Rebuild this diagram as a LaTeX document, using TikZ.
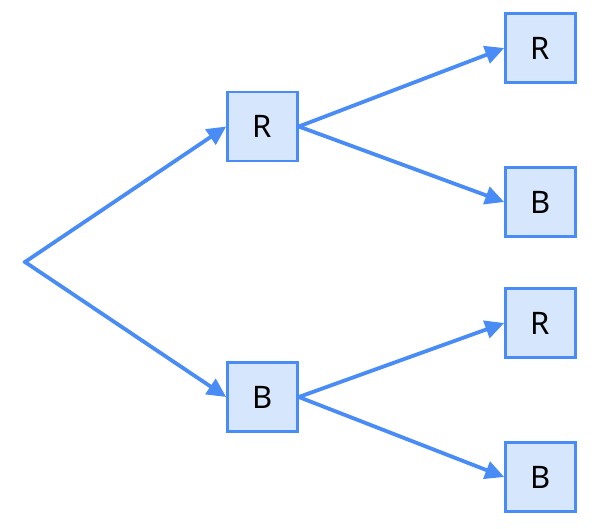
\documentclass[tikz,border=0pt]{standalone}
\usepackage{fontspec}
\setmainfont{Noto Sans}
\usetikzlibrary{arrows.meta}
\definecolor{edgeblue}{HTML}{4A8CF5}
\definecolor{boxfill}{HTML}{D6E6FC}
\tikzset{
  box/.style={draw=edgeblue, fill=boxfill, line width=2.6pt, minimum width=70pt, minimum height=69pt, inner sep=0pt, font=\fontsize{31}{36}\selectfont},
  conn/.style={draw=edgeblue, line width=3.8pt, -{Triangle[length=19pt,width=18pt]}}
}
\begin{document}
\begin{tikzpicture}[x=1pt,y=-1pt]
\useasboundingbox (0,0) rectangle (592,528);
\coordinate (root) at (25,262);
\node[box] (m1) at (262.5,126.5) {R};
\node[box] (m2) at (262.5,397) {B};
\node[box] (r1) at (540.5,48) {R};
\node[box] (r2) at (540.5,202) {B};
\node[box] (r3) at (540.5,323) {R};
\node[box] (r4) at (540.5,477) {B};
\draw[conn, shorten <=-1.5pt] (root) -- (m1.west);
\draw[conn, shorten <=-1.5pt] (root) -- (m2.west);
\draw[conn] (m1.east) -- (r1.west);
\draw[conn] (m1.east) -- (r2.west);
\draw[conn] (m2.east) -- (r3.west);
\draw[conn] (m2.east) -- (r4.west);
\end{tikzpicture}
\end{document}
